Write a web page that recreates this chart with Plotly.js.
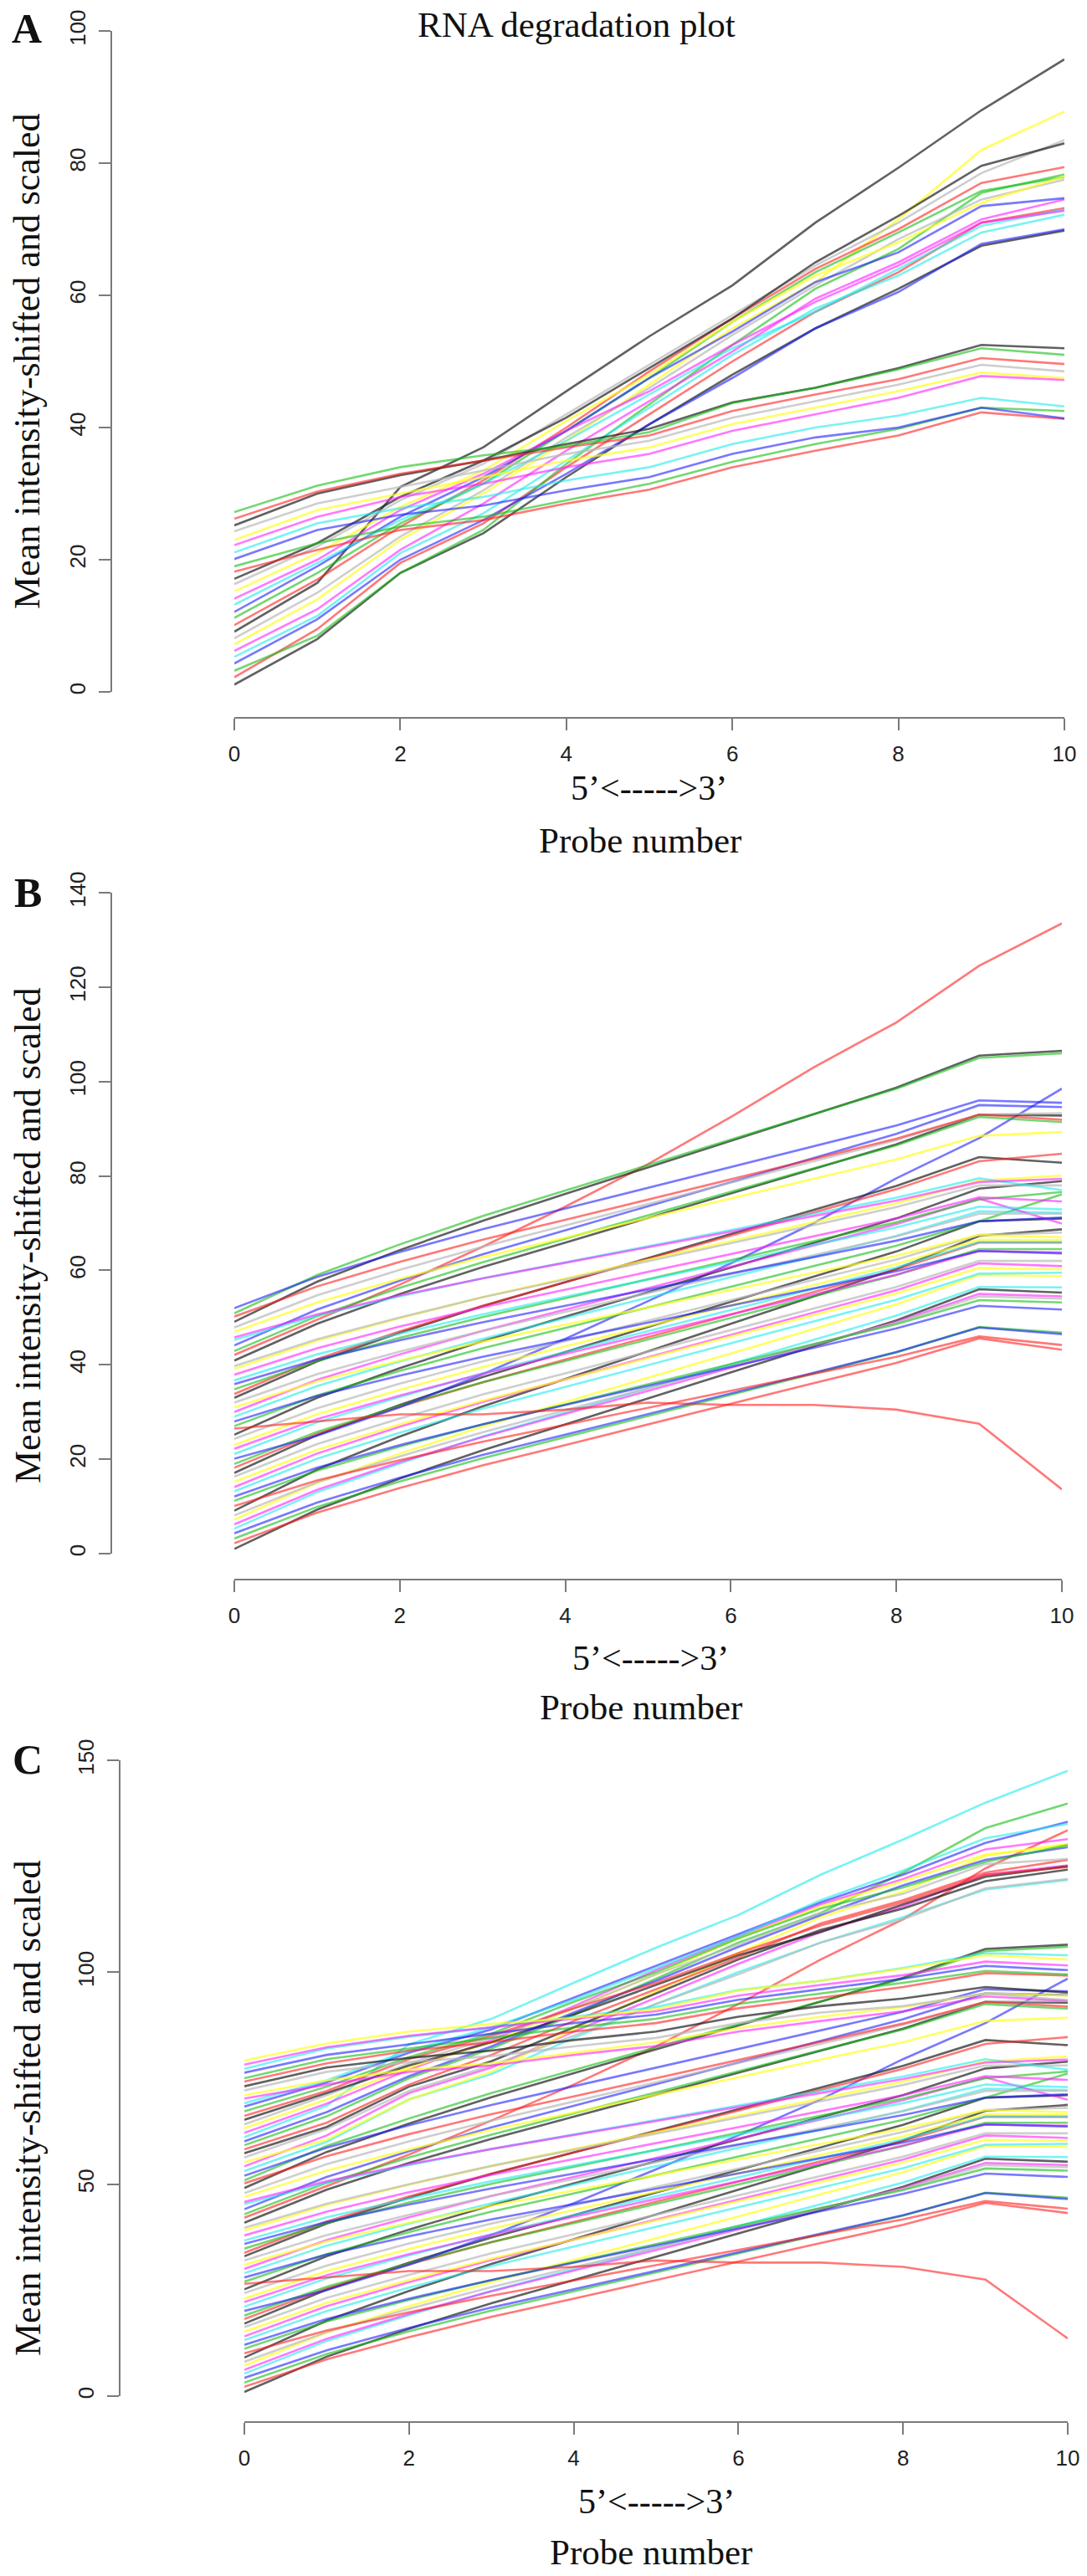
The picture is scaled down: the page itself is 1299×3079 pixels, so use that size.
<!DOCTYPE html>
<html>
<head>
<meta charset="utf-8">
<script src="https://cdn.plot.ly/plotly-3.0.1.min.js"></script>
<style>
  html, body { margin: 0; padding: 0; background: #fff; }
  #degradationPlot { width: 1299px; height: 3079px; }
</style>
</head>
<body>
<div id="degradationPlot"></div>
<script>
const W = 1299, H = 3079;

// probe positions along the x axis
const probeNumbers = [0, 1, 2, 3, 4, 5, 6, 7, 8, 9, 10];
const xTicks = [0, 2, 4, 6, 8, 10];
const yTicksA = [0, 20, 40, 60, 80, 100];
const yTicksB = [0, 20, 40, 60, 80, 100, 120, 140];
const yTicksC = [0, 50, 100, 150];

// R default palette, cycled per sample (drawn semi-transparent)
const palette = [
    "rgba(30,30,30,0.7)",     // black
    "rgba(255,30,30,0.6)",    // red
    "rgba(20,190,20,0.6)",    // green
    "rgba(30,30,255,0.6)",    // blue
    "rgba(30,235,235,0.6)",   // cyan
    "rgba(255,30,255,0.6)",   // magenta
    "rgba(255,255,30,0.7)",   // yellow
    "rgba(185,185,185,0.7)"   // gray
];

// panel A: 27 samples, mean intensity per probe (shifted and scaled)
const panelA = [
    [1.1, 8, 18, 24, 32.5, 40.5, 48, 55, 61, 67.5, 69.8],
    [2.2, 9.5, 19.5, 25.5, 34, 42, 50, 57.5, 63.5, 71, 73.2],
    [3.2, 8.5, 18, 24.5, 34.5, 43.5, 52.5, 61, 67, 75.5, 78.3],
    [4.3, 11, 20, 26, 33, 40.5, 47.5, 55, 60.5, 67.8, 70],
    [5.3, 11.5, 21, 27, 35, 43, 51, 58, 63, 69.5, 72.2],
    [6.2, 12.5, 21.5, 28.5, 36.5, 44, 51.5, 59.5, 65, 71.5, 74.5],
    [7.2, 14, 23, 30, 38, 46.5, 55, 62, 71.5, 82, 87.8],
    [8.1, 15, 23.5, 30.5, 38.5, 46, 54, 61.5, 68.5, 74.5, 77.5],
    [9.1, 16.5, 31, 37, 45.5, 53.8, 61.5, 71, 79.3, 88, 95.7],
    [10.1, 17, 25, 32, 40, 48.5, 56.5, 64, 70, 77, 79.4],
    [11.2, 18, 25.5, 31.5, 39.5, 47.5, 56, 63.5, 69.5, 75.8, 77.9],
    [12.1, 19, 26.5, 32.5, 39.5, 47.5, 54.5, 62, 66.5, 73.5, 74.7],
    [13.2, 19.5, 26, 31.5, 38, 45, 52, 57.5, 64, 70.5, 73],
    [14.1, 20, 27.5, 33, 39.5, 45.5, 52.5, 59, 64.5, 71, 72.8],
    [15.2, 21, 28, 33.5, 41, 48, 56, 63, 68, 74, 78],
    [16.3, 22, 29, 34.5, 42, 49.5, 57, 64.5, 71, 78.5, 83.5],
    [17.1, 22.5, 29.5, 35, 41.5, 49, 56.5, 65, 72, 79.6, 83],
    [18.2, 21.5, 24.5, 26, 28.5, 30.6, 34, 36.5, 38.8, 42.3, 41.3],
    [19, 22.5, 25, 26.5, 29, 31.5, 34.8, 37.5, 39.8, 43, 42.5],
    [20.1, 24.5, 26.8, 28.2, 30.5, 32.5, 36, 38.5, 40, 43, 41.4],
    [21.1, 25.5, 27.8, 29.5, 32, 34, 37.5, 40, 41.8, 44.5, 43.2],
    [22.2, 26.5, 29.5, 31.5, 34, 36, 39.5, 42, 44.5, 47.8, 47.2],
    [23, 27.5, 30, 32.5, 35, 37, 40.5, 43, 45.5, 48.3, 47.5],
    [24.3, 28.5, 31, 33.5, 36, 38, 41.5, 44, 46.5, 49.5, 48.5],
    [25.2, 30, 32.8, 35, 37.5, 39.8, 43.8, 46, 49, 52.5, 52],
    [26.2, 30.3, 33, 35, 37, 38.8, 42.5, 45, 47.3, 50.5, 49.6],
    [27.2, 31.2, 34, 35.8, 37.2, 39.3, 43.7, 46, 48.8, 52, 51]
];

// panel B: 52 samples
const panelB = [
    [1, 9.3, 15.9, 21.9, 27.4, 32.9, 38.4, 43.9, 49.4, 56, 55.3],
    [2.2, 8.7, 13.9, 18.7, 23, 27.4, 31.7, 36.1, 40.4, 45.6, 43.2],
    [3.2, 9.9, 15.3, 20.2, 24.7, 29.2, 33.7, 38.1, 42.6, 48, 46.8],
    [4.3, 10.8, 16.1, 20.9, 25.2, 29.6, 33.9, 38.3, 42.7, 47.9, 46.5],
    [5.3, 13, 19.1, 24.8, 29.9, 35, 40.1, 45.2, 50.4, 56.5, 56.4],
    [6.2, 13.5, 19.4, 24.7, 29.6, 34.5, 39.4, 44.3, 49.1, 55, 54.5],
    [7.2, 15, 21.2, 26.9, 32.1, 37.2, 42.4, 47.6, 52.8, 59, 58.8],
    [8.1, 15.1, 20.6, 25.7, 30.4, 35, 39.7, 44.3, 48.9, 54.5, 54],
    [9.1, 17.8, 24.8, 31.2, 37, 42.9, 48.7, 54.5, 60.3, 67.3, 68.7],
    [10.1, 15.5, 19.8, 23.7, 27.3, 30.9, 34.5, 38.1, 41.7, 46, 44.2],
    [11.2, 17.6, 22.7, 27.4, 31.6, 35.9, 40.1, 44.4, 48.6, 53.7, 53.2],
    [12.1, 18.2, 23, 27.4, 31.5, 35.5, 39.6, 43.6, 47.7, 52.5, 51.7],
    [13.2, 20.1, 25.6, 30.7, 35.3, 39.9, 44.5, 49.2, 53.8, 59.3, 59.5],
    [14.1, 21.2, 26.9, 32.1, 36.9, 41.6, 46.3, 51.1, 55.8, 61.5, 60.9],
    [15.2, 22, 27.4, 32.4, 36.9, 41.5, 46, 50.5, 55.1, 60.5, 60.2],
    [16.3, 23.2, 28.6, 33.7, 38.2, 42.8, 47.4, 51.9, 56.5, 62, 62],
    [17.1, 25.1, 31.5, 37.4, 42.7, 48, 53.3, 58.7, 64, 70.4, 71],
    [18.2, 25.4, 31.1, 36.3, 41.1, 45.9, 50.6, 55.4, 60.2, 65.9, 65.9],
    [19, 25.8, 31.3, 36.3, 40.8, 45.4, 49.9, 54.5, 59, 64.5, 64.5],
    [20.1, 25, 31, 38, 45.5, 53.5, 61.5, 70, 79.5, 88, 98.5],
    [21.1, 27.8, 33.2, 38.2, 42.7, 47.1, 51.6, 56.1, 60.6, 66, 66],
    [22.2, 28.5, 33.5, 38.1, 42.3, 46.5, 50.7, 54.9, 59.1, 64.1, 63.8],
    [23, 29.5, 34.7, 39.5, 43.9, 48.2, 52.6, 56.9, 61.3, 66.5, 66.4],
    [24.3, 30.8, 36, 40.7, 45, 49.4, 53.7, 58, 62.3, 67.5, 68],
    [25.2, 33, 39.3, 45, 50.2, 55.4, 60.6, 65.8, 71, 77.3, 78.9],
    [26.5, 28, 29.5, 29.5, 30.5, 32, 31.5, 31.5, 30.5, 27.5, 13.6],
    [27, 33.5, 38.7, 43.5, 47.8, 52.2, 56.5, 60.9, 65.2, 70.4, 76.1],
    [28, 33.4, 37.7, 41.7, 45.3, 48.9, 52.5, 56.2, 59.8, 64.1, 63.6],
    [29, 35.5, 40.7, 45.5, 49.9, 54.2, 58.6, 62.9, 67.3, 72.5, 72.2],
    [30, 36.8, 42.2, 47.2, 51.7, 56.2, 60.7, 65.3, 69.8, 75.2, 69.9],
    [31, 36.5, 40.9, 44.9, 48.5, 52.2, 55.8, 59.5, 63.1, 67.5, 67],
    [32, 38, 42.8, 47.2, 51.2, 55.2, 59.2, 63.2, 67.2, 72, 72],
    [33, 40.7, 46.8, 52.4, 57.5, 62.6, 67.7, 72.8, 77.9, 84, 82.8],
    [33.8, 41.2, 47.1, 52.5, 57.5, 62.4, 67.3, 72.3, 77.2, 83.1, 84.7],
    [34.8, 40.8, 45.7, 50.1, 54.1, 58.1, 62.1, 66.2, 70.2, 75, 76.6],
    [35.9, 41.1, 45.2, 49, 52.5, 55.9, 59.4, 62.8, 66.3, 70.4, 71.2],
    [36.7, 42.2, 46.6, 50.7, 54.4, 58, 61.7, 65.4, 69.1, 73.5, 72.9],
    [37.9, 43.5, 48.1, 52.2, 55.9, 59.7, 63.5, 67.2, 71, 75.5, 74.6],
    [39.1, 45.1, 49.9, 54.3, 58.3, 62.2, 66.2, 70.2, 74.2, 79, 80.1],
    [39.7, 45.4, 50, 54.3, 58.1, 61.9, 65.7, 69.6, 73.4, 78, 78],
    [40.9, 48.7, 55, 60.7, 65.9, 71.1, 76.3, 81.5, 86.7, 93, 92.8],
    [42.1, 49.5, 57, 65, 73.5, 82.5, 92.5, 103, 112.5, 124.5, 133.5],
    [42.9, 50.3, 56.3, 61.7, 66.7, 71.7, 76.6, 81.6, 86.5, 92.5, 91.4],
    [44.1, 51.7, 57.8, 63.4, 68.5, 73.6, 78.7, 83.8, 88.9, 95, 94.6],
    [45.3, 50.4, 54.5, 58.3, 61.7, 65.1, 68.6, 72, 75.4, 79.5, 77],
    [45.8, 50.7, 54.7, 58.3, 61.6, 64.9, 68.2, 71.5, 74.8, 78.7, 79.4],
    [47, 53.2, 58.2, 62.8, 66.9, 71.1, 75.2, 79.4, 83.5, 88.5, 89.3],
    [47.9, 54.7, 60.1, 65, 69.5, 74.1, 78.6, 83.1, 87.6, 93, 93.3],
    [49.1, 57.6, 64.3, 70.5, 76.2, 81.8, 87.5, 93.1, 98.7, 105.5, 106.5],
    [50.2, 56.6, 61.8, 66.5, 70.7, 75, 79.3, 83.6, 87.9, 93, 91.9],
    [50.9, 59, 65.5, 71.5, 76.9, 82.3, 87.7, 93.1, 98.5, 105, 106],
    [52, 58.6, 63.9, 68.7, 73.1, 77.5, 81.9, 86.3, 90.7, 96, 95.5]
];

// panel C re-plots the 52 samples of B, followed by 27 more samples drawn above them
const panelCUpper = [
    [53.1, 60, 70, 76, 84.5, 92.5, 100, 107, 113, 119.5, 121.8],
    [54.2, 61.5, 71.5, 77.5, 86, 94, 102, 109.5, 115.5, 123, 125.2],
    [55.2, 60.5, 70, 76.5, 86.5, 95.5, 104.5, 113, 119, 127.5, 130.3],
    [56.3, 63, 72, 78, 85, 92.5, 99.5, 107, 112.5, 119.8, 122],
    [57.3, 63.5, 73, 79, 87, 95, 103, 110, 115, 121.5, 124.2],
    [58.2, 64.5, 73.5, 80.5, 88.5, 96, 103.5, 111.5, 117, 123.5, 126.5],
    [59.2, 66, 75, 82, 90, 98.5, 107, 114, 123.5, 134, 139.8],
    [60.1, 67, 75.5, 82.5, 90.5, 98, 106, 113.5, 120.5, 126.5, 129.5],
    [61.1, 68.5, 83, 89, 97.5, 105.8, 113.5, 123, 131.3, 140, 147.5],
    [62.1, 69, 77, 84, 92, 100.5, 108.5, 116, 122, 129, 131.4],
    [63.2, 70, 77.5, 83.5, 91.5, 99.5, 108, 115.5, 121.5, 127.8, 129.9],
    [64.1, 71, 78.5, 84.5, 91.5, 99.5, 106.5, 114, 118.5, 125.5, 126.7],
    [65.2, 71.5, 78, 83.5, 90, 97, 104, 109.5, 116, 122.5, 125],
    [66.1, 72, 79.5, 85, 91.5, 97.5, 104.5, 111, 116.5, 123, 124.8],
    [67.2, 73, 80, 85.5, 93, 100, 108, 115, 120, 126, 130],
    [68.3, 74, 81, 86.5, 94, 101.5, 109, 116.5, 123, 130.5, 135.5],
    [69.1, 74.5, 81.5, 87, 93.5, 101, 108.5, 117, 124, 131.6, 135],
    [70.2, 73.5, 76.5, 78, 80.5, 82.6, 86, 88.5, 90.8, 94.3, 93.3],
    [71, 74.5, 77, 78.5, 81, 83.5, 86.8, 89.5, 91.8, 95, 94.5],
    [72.1, 76.5, 78.8, 80.2, 82.5, 84.5, 88, 90.5, 92, 95, 93.4],
    [73.1, 77.5, 79.8, 81.5, 84, 86, 89.5, 92, 93.8, 96.5, 95.2],
    [74.2, 78.5, 81.5, 83.5, 86, 88, 91.5, 94, 96.5, 99.8, 99.2],
    [75, 79.5, 82, 84.5, 87, 89, 92.5, 95, 97.5, 100.3, 99.5],
    [76.3, 80.5, 83, 85.5, 88, 90, 93.5, 96, 98.5, 101.5, 100.5],
    [77.2, 82, 84.8, 87, 89.5, 91.8, 95.8, 98, 101, 104.5, 104],
    [78.2, 82.3, 85, 87, 89, 90.8, 94.5, 97, 99.3, 102.5, 101.6],
    [79.2, 83.2, 86, 87.8, 89.2, 91.3, 95.7, 98, 100.8, 104, 103]
];

// pixel helpers: the page is one paper, margins 0
const fx = px => px / W;
const fy = py => 1 - py / H;

const serif = "Liberation Serif, Times New Roman, serif";
const tickFont = { family: "Liberation Sans, Arial, sans-serif", size: 26, color: "#222" };

const panels = [
    { samples: panelA, yTicks: yTicksA, yMax: 100, xLeft: 280, xRight: 1272, yTop: 37, yBottom: 827, xAxisAt: 858, yAxisAt: 133 },
    { samples: panelB, yTicks: yTicksB, yMax: 140, xLeft: 280, xRight: 1269, yTop: 1067, yBottom: 1857, xAxisAt: 1888, yAxisAt: 133 },
    { samples: panelB.concat(panelCUpper), yTicks: yTicksC, yMax: 150, xLeft: 292, xRight: 1276, yTop: 2104, yBottom: 2864, xAxisAt: 2895, yAxisAt: 143 }
];

const data = [];
const layout = {
    width: W,
    height: H,
    margin: { l: 0, r: 0, t: 0, b: 0 },
    paper_bgcolor: "#fff",
    plot_bgcolor: "#fff",
    showlegend: false,
    annotations: []
};

panels.forEach((p, n) => {
    const suffix = n === 0 ? "" : String(n + 1);
    p.samples.forEach((values, i) => {
        data.push({
            x: probeNumbers,
            y: values,
            type: "scatter",
            mode: "lines",
            line: { color: palette[i % palette.length], width: 2.6 },
            xaxis: "x" + suffix,
            yaxis: "y" + suffix,
            hoverinfo: "skip"
        });
    });

    const common = {
        showline: true, linecolor: "#7a7a7a", linewidth: 2,
        ticks: "outside", ticklen: 14, tickwidth: 2, tickcolor: "#7a7a7a",
        showgrid: false, zeroline: false, tickfont: tickFont,
        anchor: "free", fixedrange: true
    };
    layout["xaxis" + suffix] = Object.assign({}, common, {
        domain: [fx(p.xLeft), fx(p.xRight)],
        range: [0, 10],
        tickvals: xTicks,
        position: fy(p.xAxisAt),
        ticklabelstandoff: 6
    });
    layout["yaxis" + suffix] = Object.assign({}, common, {
        domain: [fy(p.yBottom), fy(p.yTop)],
        range: [0, p.yMax],
        tickvals: p.yTicks,
        tickangle: -90,
        position: fx(p.yAxisAt),
        ticklabelstandoff: 6
    });
});

function label(text, px, py, size, extra) {
    layout.annotations.push(Object.assign({
        text: text, x: fx(px), y: fy(py), xref: "paper", yref: "paper",
        xanchor: "center", yanchor: "middle", showarrow: false,
        font: { family: serif, size: size, color: "#111" }
    }, extra || {}));
}

// panel letters
label("<b>A</b>", 32, 34, 50);
label("<b>B</b>", 33, 1067, 50);
label("<b>C</b>", 33, 2103, 50);

label("RNA degradation plot", 689, 30, 43);

// axis titles (placed by hand, like the R plot)
const yTitle = "Mean intensity-shifted and scaled";
label(yTitle, 33, 432, 44, { textangle: -90 });
label(yTitle, 33, 1477, 44, { textangle: -90 });
label(yTitle, 33, 2520, 44, { textangle: -90 });

const arrowText = "5’&lt;-----&gt;3’";
label(arrowText, 775, 942, 42);
label(arrowText, 777, 1982, 42);
label(arrowText, 785, 2990, 42);

label("Probe number", 765, 1004, 43);
label("Probe number", 766, 2040, 43);
label("Probe number", 778, 3050, 43);

Plotly.newPlot("degradationPlot", data, layout, { displayModeBar: false, staticPlot: true });
</script>
</body>
</html>
